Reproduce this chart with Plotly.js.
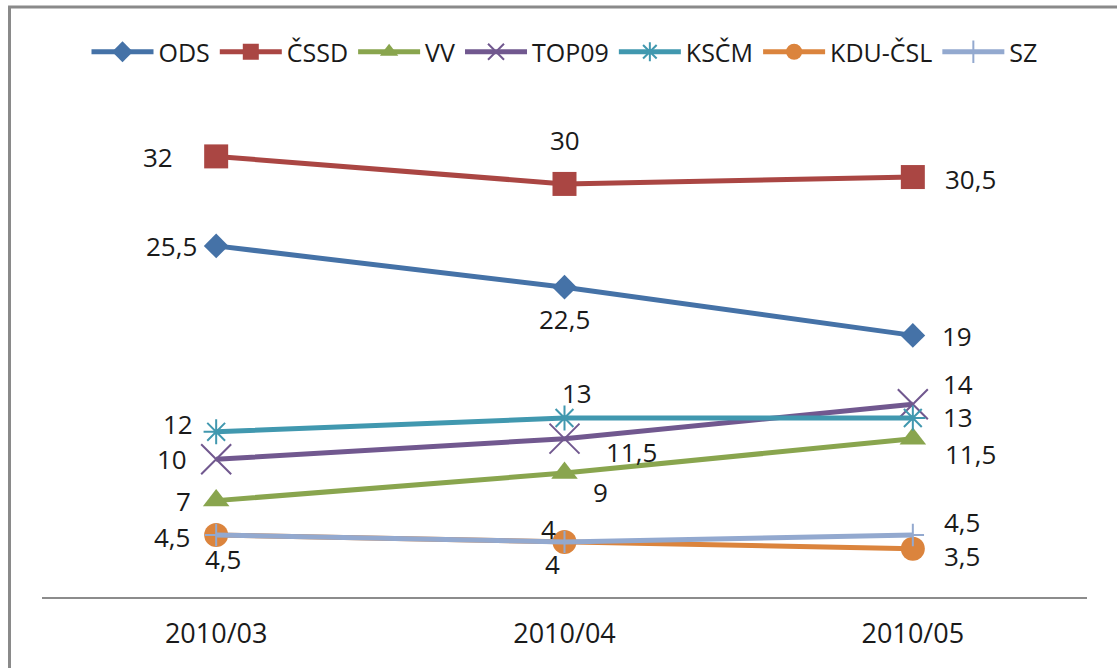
<!DOCTYPE html>
<html>
<head>
<meta charset="utf-8">
<script src="https://cdn.plot.ly/plotly-3.0.1.min.js"></script>
<style>html,body{margin:0;padding:0;background:#fff;}#chart{width:1117px;height:668px;}</style>
</head>
<body>
<div id="chart"></div>
<script>
// ---- data ----
const categories = ["2010/03", "2010/04", "2010/05"];
const seriesNames = ["ODS", "ČSSD", "VV", "TOP09", "KSČM", "KDU-ČSL", "SZ"];
const ODS = [25.5, 22.5, 19];
const CSSD = [32, 30, 30.5];
const VV = [7, 9, 11.5];
const TOP09 = [10, 11.5, 14];
const KSCM = [12, 13, 13];
const KDU = [4.5, 4, 3.5];
const SZ = [4.5, 4, 4.5];
const seriesValues = [ODS, CSSD, VV, TOP09, KSCM, KDU, SZ];

// ---- styles ----
const colors = ["#4572A7", "#AA4643", "#89A54E", "#71588F", "#4198AF", "#DB843D", "#93A9CF"];
const symbols = ["diamond", "square", "triangle-up", "x-thin-open", "asterisk-open", "circle", "cross-thin-open"];
const msizes = [19, 24, 23, 30, 21, 24, 16];
// label offsets in px [xshift, yshift] per series per point
const labelOffsets = [
  [[-45, 0], [0, -32], [44, -1]],
  [[-58, -1], [0, 44], [58, -2]],
  [[-33, 0], [36, -19], [58, -15]],
  [[-44, 0], [67, -13], [45, 20]],
  [[-38, 8], [12, 25], [45, 1]],
  [[7, -24], [-12, -22], [49, -7]],
  [[-44, -2], [-16, 13], [49, 13]]
];

const xIdx = categories.map((c, i) => i);
const fontFam = "'Open Sans', 'Noto Sans', sans-serif";

const traces = seriesNames.map((name, s) => ({
  type: "scatter",
  mode: "lines+markers",
  name: name,
  x: xIdx,
  y: seriesValues[s],
  line: {color: colors[s], width: 5},
  marker: {
    symbol: symbols[s],
    size: msizes[s],
    color: colors[s],
    line: {color: colors[s], width: symbols[s].indexOf("open") >= 0 ? 2 : 0}
  },
  hoverinfo: "x+y+name"
}));

const annotations = [];
seriesValues.forEach((vals, s) => {
  vals.forEach((v, i) => {
    annotations.push({
      x: xIdx[i], y: v, xref: "x", yref: "y",
      text: String(v).replace(".", ","),
      showarrow: false,
      borderpad: 0,
      xshift: labelOffsets[s][i][0],
      yshift: labelOffsets[s][i][1],
      font: {family: fontFam, size: 26, color: "#1a1a1a"}
    });
  });
});

const layout = {
  width: 1117, height: 668,
  margin: {l: 42, r: 30, t: 87, b: 71, pad: 0},
  paper_bgcolor: "#fff", plot_bgcolor: "#fff",
  showlegend: true,
  legend: {
    orientation: "h", x: 0.5, xanchor: "center", y: 1.0686, yanchor: "middle",
    font: {family: fontFam, size: 25, color: "#1a1a1a"},
    itemwidth: 62, tracegroupgap: 0
  },
  xaxis: {
    range: [-0.5, 2.5],
    tickvals: xIdx, ticktext: categories,
    showline: true, linecolor: "#8c8c8c", linewidth: 2,
    showgrid: false, zeroline: false, ticks: "",
    ticklabelstandoff: 12,
    tickfont: {family: fontFam, size: 27, color: "#1a1a1a"},
    fixedrange: true
  },
  yaxis: {
    range: [0, 37.04], visible: false, showgrid: false, zeroline: false, fixedrange: true
  },
  annotations: annotations,
  shapes: [
    {type: "line", xref: "paper", yref: "paper", x0: -0.0311, x1: -0.0311, y0: -0.15, y1: 1.157,
     line: {color: "#8a8a8a", width: 3}},
    {type: "line", xref: "paper", yref: "paper", x0: -0.0325, x1: 1.05, y0: 1.157, y1: 1.157,
     line: {color: "#8a8a8a", width: 3}}
  ]
};

Plotly.newPlot("chart", traces, layout, {displayModeBar: false, staticPlot: true});
</script>
</body>
</html>
